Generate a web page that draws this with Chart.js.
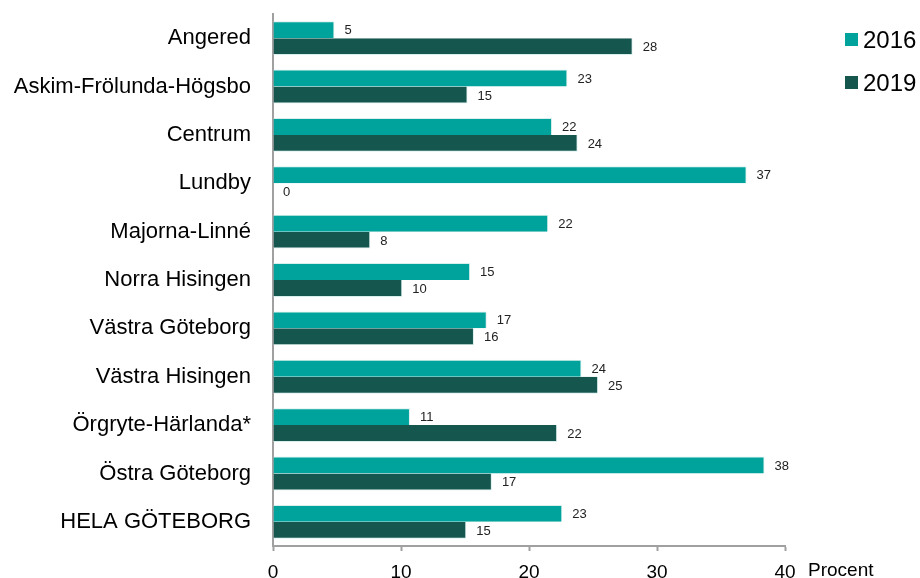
<!DOCTYPE html>
<html>
<head>
<meta charset="utf-8">
<script src="https://cdn.jsdelivr.net/npm/chart.js@4/dist/chart.umd.min.js"></script>
<style>
  body { margin: 0; background: #fff; }
  #wrap { position: relative; width: 920px; height: 578px; }
  .leg { position: absolute; left: 845px; font: 24px "Liberation Sans", Arial, sans-serif; color: #000; line-height: 28px; }
  .leg span { display: inline-block; width: 13px; height: 13px; margin-right: 5px; vertical-align: 2px; }
</style>
</head>
<body>
<div id="wrap">
  <canvas id="chart" width="920" height="578"></canvas>
  <div class="leg" style="top:26px"><span style="background:#00a39b"></span>2016</div>
  <div class="leg" style="top:69px"><span style="background:#15574f"></span>2019</div>
</div>
<script>
const areas = ['Angered', 'Askim-Frölunda-Högsbo', 'Centrum', 'Lundby', 'Majorna-Linné',
  'Norra Hisingen', 'Västra Göteborg', 'Västra Hisingen', 'Örgryte-Härlanda*',
  'Östra Göteborg', 'HELA GÖTEBORG'];
const vals2016 = [4.8, 23.0, 21.8, 37.0, 21.5, 15.4, 16.7, 24.1, 10.7, 38.4, 22.6];
const vals2019 = [28.1, 15.2, 23.8, 0, 7.6, 10.1, 15.7, 25.4, 22.2, 17.1, 15.1];
const xTicks = [0, 10, 20, 30, 40];

const teal = '#00a39b';
const dark = '#15574f';

// value labels next to each bar + "Procent" after the last tick
const barLabels = {
  id: 'barLabels',
  afterDatasetsDraw(chart) {
    const ctx = chart.ctx;
    ctx.save();
    ctx.font = '13px "Liberation Sans", Arial, sans-serif';
    ctx.fillStyle = '#222';
    ctx.textBaseline = 'middle';
    chart.data.datasets.forEach((ds, i) => {
      chart.getDatasetMeta(i).data.forEach((bar, j) => {
        ctx.fillText(Math.round(ds.data[j]), bar.x + 10, bar.y + 1);
      });
    });
    ctx.font = '19px "Liberation Sans", Arial, sans-serif';
    ctx.fillStyle = '#000';
    ctx.fillText('Procent', chart.chartArea.right + 23, 571);
    ctx.restore();
  }
};

new Chart(document.getElementById('chart').getContext('2d'), {
  type: 'bar',
  data: {
    labels: areas,
    datasets: [
      { label: '2016', data: vals2016, backgroundColor: teal, borderColor: '#d8efed', borderWidth: { top: 1, right: 1 } },
      { label: '2019', data: vals2019, backgroundColor: dark, borderColor: '#d8efed', borderWidth: { bottom: 1, right: 1 } }
    ]
  },
  options: {
    indexAxis: 'y',
    responsive: false,
    animation: false,
    layout: { padding: { top: 14, right: 135, left: 0, bottom: 0 } },
    categoryPercentage: 0.7,
    barPercentage: 1.0,
    plugins: { legend: { display: false }, tooltip: { enabled: false } },
    scales: {
      x: {
        min: 0, max: 40,
        afterBuildTicks: s => { s.ticks = xTicks.map(v => ({ value: v })); },
        grid: { display: true, drawOnChartArea: false, drawTicks: true, tickLength: 5, tickColor: '#a0a0a0', tickWidth: 2 },
        border: { color: '#a0a0a0', width: 2 },
        ticks: { color: '#000', font: { size: 19, family: '"Liberation Sans", Arial, sans-serif' }, padding: 10, maxRotation: 0 },
        afterFit: s => { s.height = 32; s.paddingLeft = 0; s.paddingRight = 0; }
      },
      y: {
        grid: { display: false, drawTicks: false },
        border: { color: '#a0a0a0', width: 2 },
        ticks: { color: '#000', font: { size: 22, family: '"Liberation Sans", Arial, sans-serif' }, padding: 22 },
        afterFit: s => { s.width = 273; s.paddingTop = 0; s.paddingBottom = 0; }
      }
    }
  },
  plugins: [barLabels]
});
</script>
</body>
</html>
